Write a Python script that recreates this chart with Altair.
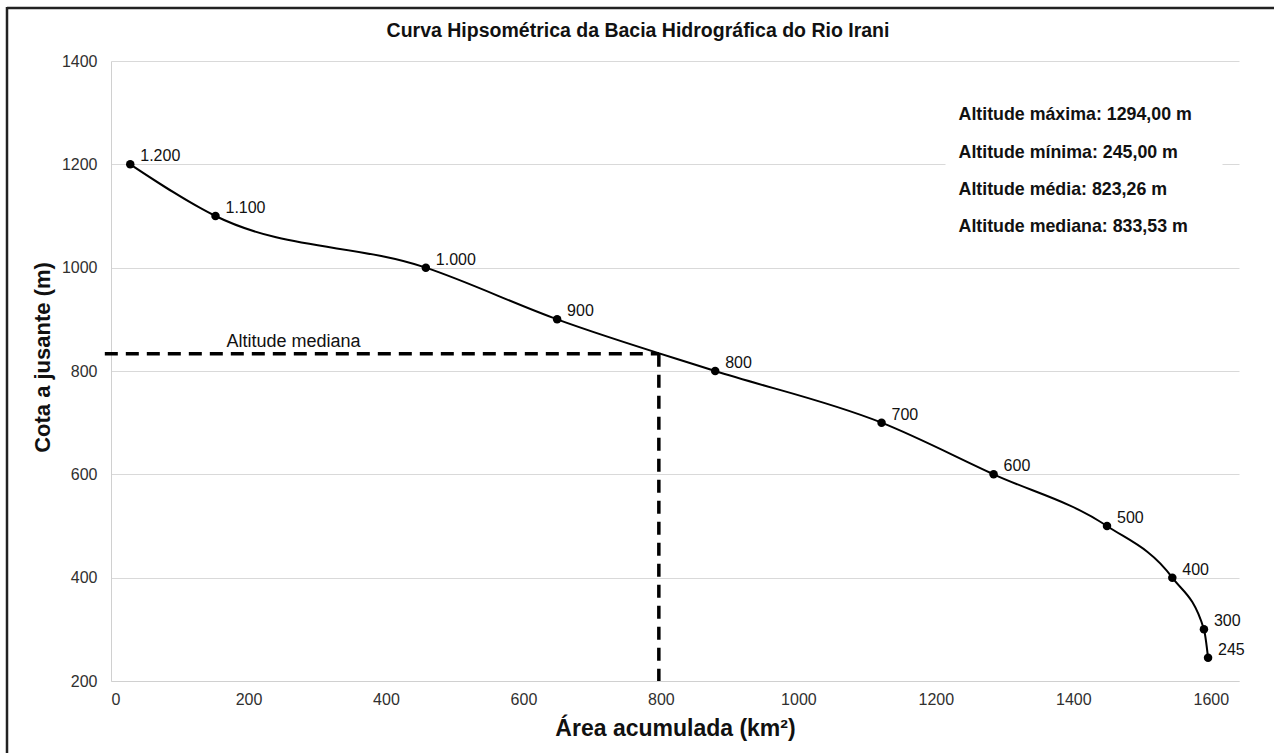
import altair as alt
import pandas as pd

# Curve data
area = [28, 152, 458, 649, 879, 1121, 1284, 1449, 1544, 1590, 1596]
cota = [1200, 1100, 1000, 900, 800, 700, 600, 500, 400, 300, 245]
point_labels = ["1.200", "1.100", "1.000", "900", "800", "700", "600", "500", "400", "300", "245"]

# Median reference
median_area = 797
median_alt = 833.53

# Info box lines
info_lines = [
    "Altitude máxima: 1294,00 m",
    "Altitude mínima: 245,00 m",
    "Altitude média: 823,26 m",
    "Altitude mediana: 833,53 m",
]
info_y = [1295, 1222, 1150, 1079]
info_x = 1233

TITLE = "Curva Hipsométrica da Bacia Hidrográfica do Rio Irani"

FONT = "Liberation Sans"
X_DOMAIN = [0, 1641]
Y_DOMAIN = [200, 1400]

df = pd.DataFrame({"area": area, "cota": cota, "label": point_labels})

xs = alt.Scale(domain=X_DOMAIN, nice=False, zero=False)
ys = alt.Scale(domain=Y_DOMAIN, nice=False, zero=False)

x_axis = alt.Axis(
    values=[0, 200, 400, 600, 800, 1000, 1200, 1400, 1600], format="d",
    grid=False, ticks=False, domainColor="#d0d0d0", labelFont=FONT,
    labelFontSize=16, labelColor="#303030", labelPadding=10,
    title="Área acumulada (km²)", titleFont=FONT, titleFontSize=23,
    titleFontWeight="bold", titleColor="#111", titleBaseline="middle", titleY=47,
)
y_axis = alt.Axis(
    values=[200, 400, 600, 800, 1000, 1200, 1400], format="d",
    grid=True, gridColor="#d9d9d9", ticks=False, domainColor="#d0d0d0",
    labelFont=FONT, labelFontSize=16, labelColor="#303030", labelPadding=14,
    title="Cota a jusante (m)", titleFont=FONT, titleFontSize=22,
    titleFontWeight="bold", titleColor="#111", titleBaseline="middle",
    titleX=-69, titleY=296, titleAngle=-90,
)

base = alt.Chart(df)

line = base.mark_line(color="black", strokeWidth=2, interpolate="monotone").encode(
    x=alt.X("area:Q", scale=xs, axis=x_axis),
    y=alt.Y("cota:Q", scale=ys, axis=y_axis),
)
pts = base.mark_circle(color="black", size=72, opacity=1).encode(
    x=alt.X("area:Q", scale=xs), y=alt.Y("cota:Q", scale=ys)
)
lbl = base.mark_text(align="left", baseline="middle", dx=10, dy=-8,
                     font=FONT, fontSize=16, color="#111").encode(
    x=alt.X("area:Q", scale=xs), y=alt.Y("cota:Q", scale=ys), text="label:N"
)

# Median dashed lines
hdf = pd.DataFrame({"x1": [-9], "x2": [median_area], "y": [median_alt]})
hline = alt.Chart(hdf).mark_rule(color="black", strokeWidth=3.5, strokeDash=[13, 8], clip=False).encode(
    x=alt.X("x1:Q", scale=xs), x2="x2:Q", y=alt.Y("y:Q", scale=ys)
)
vdf = pd.DataFrame({"x": [median_area], "y1": [median_alt], "y2": [Y_DOMAIN[0]]})
vline = alt.Chart(vdf).mark_rule(color="black", strokeWidth=3.5, strokeDash=[13, 8]).encode(
    x=alt.X("x:Q", scale=xs), y=alt.Y("y1:Q", scale=ys), y2="y2:Q"
)
mdf = pd.DataFrame({"x": [168], "y": [856], "t": ["Altitude mediana"]})
mtext = alt.Chart(mdf).mark_text(align="left", baseline="middle", font=FONT,
                                 fontSize=18, color="#111").encode(
    x=alt.X("x:Q", scale=xs), y=alt.Y("y:Q", scale=ys), text="t:N"
)

# Info box (white background over gridline) and text
bdf = pd.DataFrame({"x1": [1214], "x2": [1617], "y1": [1340], "y2": [1035]})
box = alt.Chart(bdf).mark_rect(color="white").encode(
    x=alt.X("x1:Q", scale=xs), x2="x2:Q", y=alt.Y("y1:Q", scale=ys), y2="y2:Q"
)
idf = pd.DataFrame({"x": [info_x] * len(info_lines), "y": info_y, "t": info_lines})
itext = alt.Chart(idf).mark_text(align="left", baseline="middle", font=FONT,
                                 fontSize=17.8, fontWeight="bold", color="#111").encode(
    x=alt.X("x:Q", scale=xs), y=alt.Y("y:Q", scale=ys), text="t:N"
)

# Outer frame (top and left edges visible in the reference) and chart title
one = pd.DataFrame({"t": [TITLE]})
frame_top = alt.Chart(one).mark_rule(color="#222", strokeWidth=2.5).encode(
    x=alt.value(-104), x2=alt.value(1170), y=alt.value(-53)
)
frame_left = alt.Chart(one).mark_rule(color="#222", strokeWidth=2.5).encode(
    x=alt.value(-104), y=alt.value(-54), y2=alt.value(700)
)
title = alt.Chart(one).mark_text(align="center", baseline="middle", font=FONT,
                                 fontSize=19.5, fontWeight="bold", color="#111").encode(
    x=alt.value(527), y=alt.value(-30), text="t:N"
)

chart = alt.layer(
    box, line, pts, lbl, hline, vline, mtext, itext, frame_top, frame_left, title
).properties(
    width=1128, height=620,
    padding={"left": 111, "top": 61, "right": 35, "bottom": 72},
    autosize=alt.AutoSizeParams(type="none"),
    background="white",
).configure_view(stroke=None)

chart.save("out.html", embed_options={"renderer": "svg", "actions": False})
